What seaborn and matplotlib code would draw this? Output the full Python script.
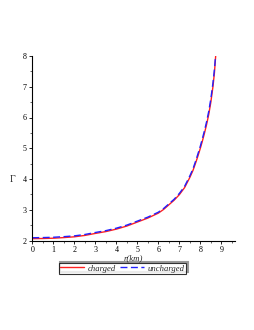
import matplotlib
matplotlib.use("Agg")
import matplotlib.pyplot as plt
import seaborn as sns
import pandas as pd
from matplotlib.ticker import MultipleLocator
from matplotlib.patches import Rectangle

# ---- data ----
r_charged = [0, 0.5, 1, 1.5, 2, 2.5, 3, 3.5, 4, 4.5, 5, 5.5, 6, 6.25, 6.5, 6.75, 7,
             7.25, 7.5, 7.65, 7.8, 7.9, 8.0, 8.1, 8.2, 8.3, 8.4, 8.5, 8.6, 8.67, 8.73]
gamma_charged = [2.06, 2.065, 2.075, 2.095, 2.12, 2.165, 2.23, 2.29, 2.37, 2.47, 2.60,
                 2.73, 2.89, 3.01, 3.16, 3.31, 3.49, 3.72, 4.05, 4.28, 4.57, 4.78, 5.00,
                 5.24, 5.50, 5.78, 6.10, 6.50, 7.00, 7.45, 8.00]
r_uncharged = [0, 0.5, 1, 1.5, 2, 2.5, 3, 3.5, 4, 4.5, 5, 5.5, 6, 6.25, 6.5, 6.75, 7,
               7.25, 7.5, 7.65, 7.8, 7.9, 8.0, 8.1, 8.2, 8.3, 8.4, 8.5, 8.6, 8.67, 8.725]
gamma_uncharged = [2.09, 2.095, 2.105, 2.125, 2.15, 2.195, 2.26, 2.32, 2.40, 2.50, 2.63,
                   2.76, 2.92, 3.04, 3.19, 3.34, 3.53, 3.76, 4.10, 4.33, 4.63, 4.85, 5.07,
                   5.32, 5.58, 5.87, 6.20, 6.61, 7.12, 7.56, 8.00]
x_ticks = [0, 1, 2, 3, 4, 5, 6, 7, 8, 9]
y_ticks = [2, 3, 4, 5, 6, 7, 8]
labels = ["charged", "uncharged"]

sns.set_style("white")
plt.rcParams['font.family'] = ['Liberation Serif', 'DejaVu Serif']

fig = plt.figure(figsize=(2.55, 3.3), dpi=100)
ax = fig.add_axes([32.3 / 255, 1 - 240.5 / 330, (235 - 32.3) / 255, (240.5 - 56) / 330])

df_c = pd.DataFrame({"r": r_charged, "g": gamma_charged})
df_u = pd.DataFrame({"r": r_uncharged, "g": gamma_uncharged})
sns.lineplot(data=df_c, x="r", y="g", ax=ax, color="#ff2020", lw=1.0, sort=False,
             estimator=None, label=labels[0])
sns.lineplot(data=df_u, x="r", y="g", ax=ax, color="#2020ff", lw=1.0, sort=False,
             estimator=None, label=labels[1], dashes=False, linestyle=(0, (5, 2.5)))

ax.set_xlim(0, 9.65)
ax.set_ylim(2.0, 8.0)
ax.set_xticks(x_ticks)
ax.set_yticks(y_ticks)
ax.xaxis.set_minor_locator(MultipleLocator(0.5))
ax.yaxis.set_minor_locator(MultipleLocator(0.5))
for s in ["top", "right"]:
    ax.spines[s].set_visible(False)
for s in ["left", "bottom"]:
    ax.spines[s].set_color("black")
    ax.spines[s].set_linewidth(0.8)
ax.tick_params(which="major", direction="out", length=2.5, width=0.6, labelsize=5.8,
               pad=1.5, colors="black", left=True, bottom=True)
ax.tick_params(which="minor", direction="out", length=1.5, width=0.5,
               left=True, bottom=True)
ax.set_xlabel("")
ax.set_ylabel("")
fig.text(133 / 255, 1 - 258 / 330, "r(km)", fontsize=6.3, style="italic",
         ha="center", va="center")
fig.text(13 / 255, 1 - 180 / 330, "Γ", fontsize=7, ha="center", va="center")

ax.get_legend().remove()
handles, labs = ax.get_legend_handles_labels()
leg = fig.legend(handles, labs, loc="center", bbox_to_anchor=(122.5 / 255, 1 - 268.5 / 330),
                 ncol=2, frameon=True, fancybox=False, edgecolor="black",
                 prop={"size": 6.2, "style": "italic"}, handlelength=2.8,
                 columnspacing=0.5, handletextpad=0.4, borderpad=0.15, borderaxespad=0)
leg.get_frame().set_linewidth(0.8)

fig.canvas.draw()
bb = leg.get_window_extent().transformed(fig.transFigure.inverted())
shadow = Rectangle((bb.x0 + 1.5 / 255, bb.y0 + 1.5 / 330), bb.width, bb.height,
                   transform=fig.transFigure, facecolor="none", edgecolor="#999999",
                   lw=1.5, zorder=0)
fig.patches.append(shadow)

fig.savefig("out.png", dpi=100)
